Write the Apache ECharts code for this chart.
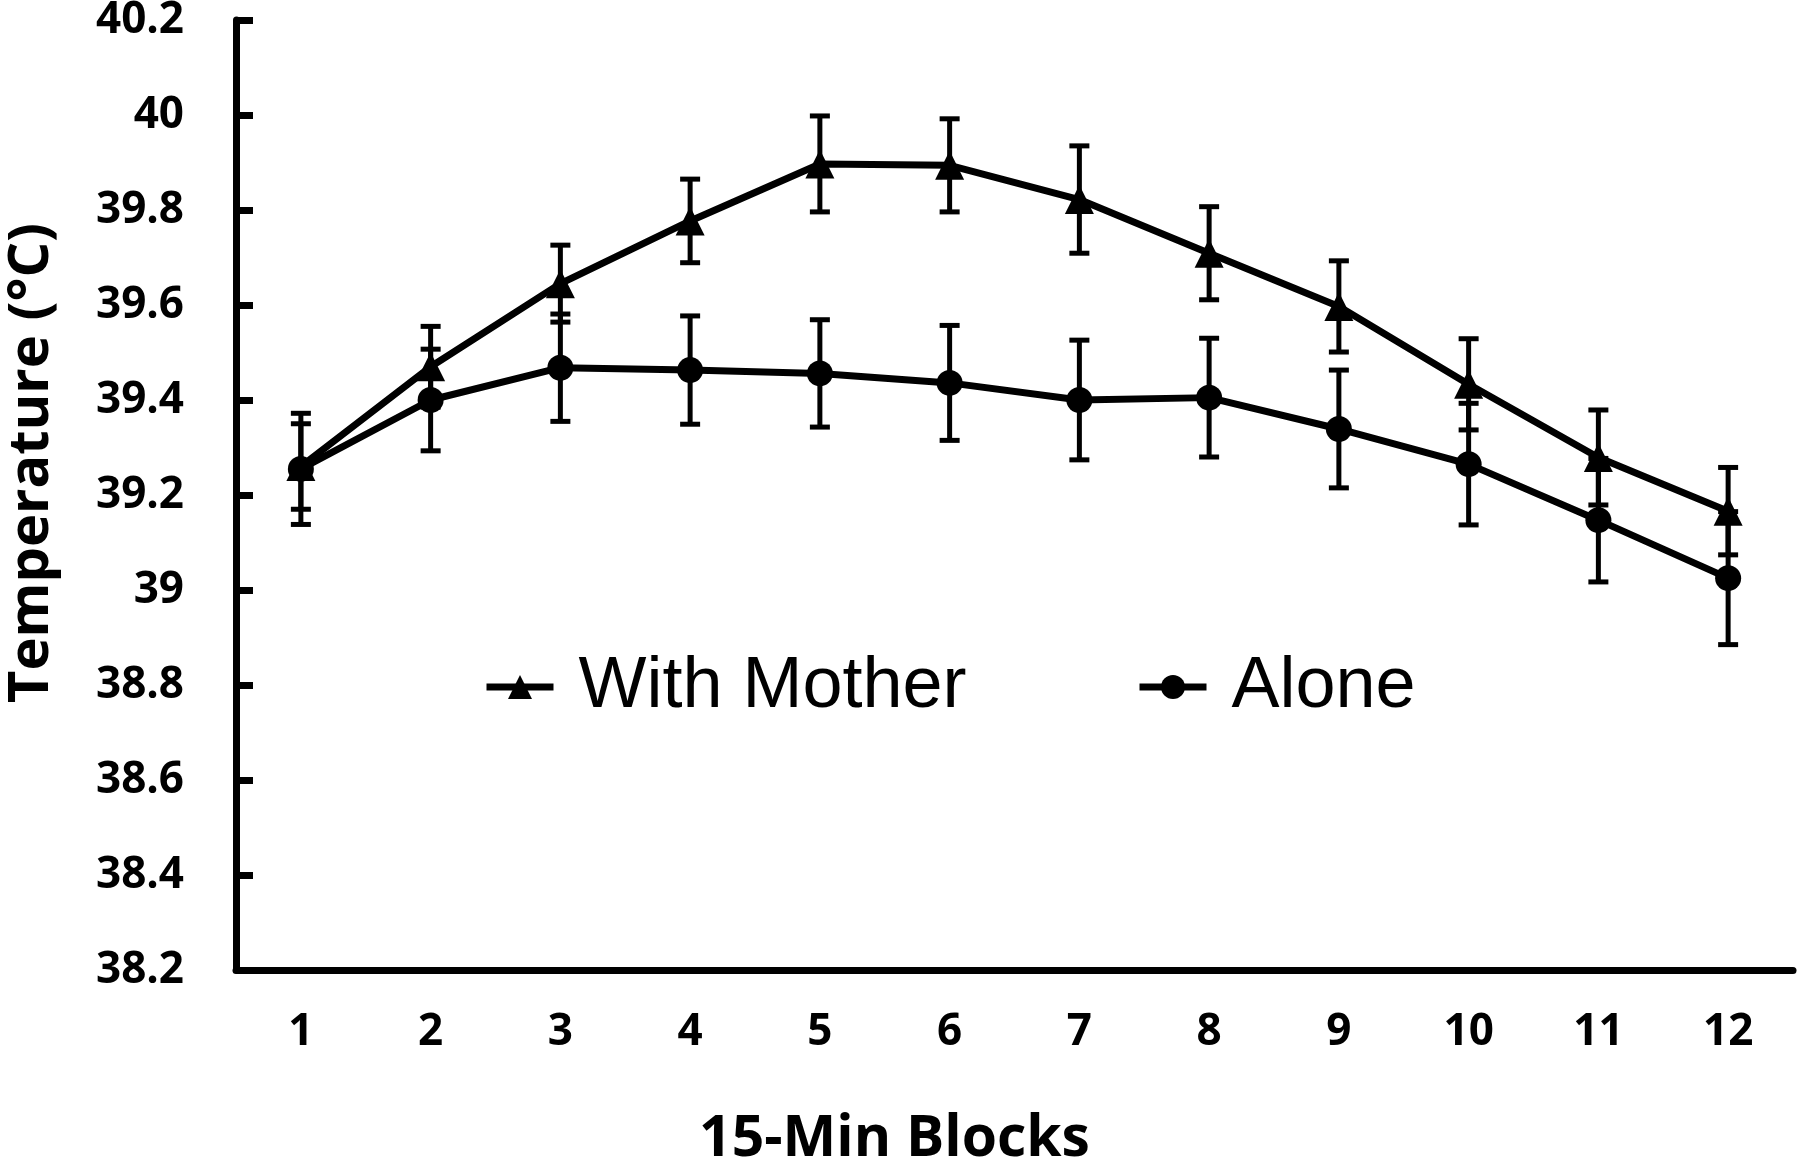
<!DOCTYPE html>
<html>
<head>
<meta charset="utf-8">
<title>Temperature by 15-Min Blocks</title>
<script src="https://cdn.jsdelivr.net/npm/echarts@6/dist/echarts.min.js"></script>
<style>
  html, body { margin: 0; padding: 0; background: #fff; }
  #tempChart { width: 1800px; height: 1164px; }
</style>
</head>
<body>
<div id="tempChart"></div>
<script>
  // data
  const blocks = ['1', '2', '3', '4', '5', '6', '7', '8', '9', '10', '11', '12'];
  const withMother = [39.26, 39.47, 39.645, 39.777, 39.897, 39.894, 39.822, 39.709, 39.597, 39.433, 39.279, 39.166];
  const withMotherSE = [0.09, 0.085, 0.081, 0.088, 0.101, 0.098, 0.113, 0.098, 0.096, 0.096, 0.10, 0.092];
  const alone = [39.255, 39.40, 39.468, 39.463, 39.456, 39.436, 39.40, 39.405, 39.339, 39.265, 39.147, 39.025];
  const aloneSE = [0.117, 0.107, 0.113, 0.114, 0.113, 0.121, 0.126, 0.125, 0.124, 0.128, 0.13, 0.14];
  const yMin = 38.2;
  const yMax = 40.2;
  const yStep = 0.2;

  const chartInstance = echarts.init(document.getElementById('tempChart'));

  function errorData(means, se) {
    return means.map((m, i) => [i, m - se[i], m + se[i]]);
  }

  // vertical bar with caps
  function renderErrorBar(params, api) {
    const lo = api.coord([api.value(0), api.value(1)]);
    const hi = api.coord([api.value(0), api.value(2)]);
    const half = 10;
    const style = { stroke: '#000', lineWidth: 5 };
    return {
      type: 'group',
      children: [
        { type: 'line', shape: { x1: lo[0], y1: lo[1], x2: hi[0], y2: hi[1] }, style: style },
        { type: 'line', shape: { x1: hi[0] - half, y1: hi[1], x2: hi[0] + half, y2: hi[1] }, style: style },
        { type: 'line', shape: { x1: lo[0] - half, y1: lo[1], x2: lo[0] + half, y2: lo[1] }, style: style }
      ]
    };
  }

  const boldFont = '"Open Sans", "DejaVu Sans", sans-serif';
  const legendText = {
    fontFamily: '"Liberation Sans", Arial, sans-serif',
    fontSize: 72,
    color: '#000',
    padding: [0, 0, 0, 20]
  };
  const legendBase = {
    top: 651,
    padding: 0,
    itemWidth: 67,
    itemHeight: 30,
    lineStyle: { width: 7 },
    textStyle: legendText
  };

  const chartSetting = {
    backgroundColor: '#fff',
    animation: false,
    grid: {
      left: 236,
      right: 7,
      top: 20,
      bottom: 194,
      outerBoundsMode: 'none'
    },
    legend: [
      Object.assign({ data: ['With Mother'], left: 483 }, legendBase),
      Object.assign({ data: ['Alone'], left: 1136 }, legendBase)
    ],
    xAxis: {
      type: 'category',
      data: blocks,
      boundaryGap: true,
      name: '15-Min Blocks',
      nameLocation: 'middle',
      nameGap: 141,
      nameTextStyle: {
        fontFamily: boldFont,
        fontWeight: 'bold',
        fontSize: 57,
        color: '#000',
        padding: [0, 240, 0, 0]
      },
      axisLine: { lineStyle: { color: '#000', width: 7 } },
      axisTick: {
        alignWithLabel: true,
        inside: true,
        length: 17,
        lineStyle: { color: '#000', width: 7 }
      },
      axisLabel: {
        margin: 40,
        fontFamily: boldFont,
        fontWeight: 'bold',
        fontSize: 44,
        color: '#000'
      },
      splitLine: { show: false }
    },
    yAxis: {
      type: 'value',
      min: yMin,
      max: yMax,
      interval: yStep,
      name: 'Temperature (°C)',
      nameLocation: 'middle',
      nameGap: 176,
      nameTextStyle: {
        fontFamily: boldFont,
        fontWeight: 'bold',
        fontSize: 56,
        color: '#000',
        padding: [0, 0, 0, 64]
      },
      axisLine: { show: true, lineStyle: { color: '#000', width: 7 } },
      axisTick: {
        show: true,
        inside: true,
        length: 17,
        lineStyle: { color: '#000', width: 7 }
      },
      axisLabel: {
        margin: 52,
        fontFamily: boldFont,
        fontWeight: 'bold',
        fontSize: 44,
        color: '#000',
        formatter: function (v) {
          return String(parseFloat(v.toFixed(1)));
        }
      },
      splitLine: { show: false }
    },
    series: [{
      name: 'With Mother SE',
      type: 'custom',
      renderItem: renderErrorBar,
      encode: { x: 0, y: [1, 2] },
      data: errorData(withMother, withMotherSE),
      z: 3
    }, {
      name: 'Alone SE',
      type: 'custom',
      renderItem: renderErrorBar,
      encode: { x: 0, y: [1, 2] },
      data: errorData(alone, aloneSE),
      z: 3
    }, {
      name: 'With Mother',
      type: 'line',
      data: withMother,
      symbol: 'triangle',
      symbolSize: 29,
      lineStyle: { color: '#000', width: 7 },
      itemStyle: { color: '#000' },
      z: 4
    }, {
      name: 'Alone',
      type: 'line',
      data: alone,
      symbol: 'circle',
      symbolSize: 26,
      lineStyle: { color: '#000', width: 7 },
      itemStyle: { color: '#000' },
      z: 4
    }]
  };

  chartInstance.setOption(chartSetting);
</script>
</body>
</html>
